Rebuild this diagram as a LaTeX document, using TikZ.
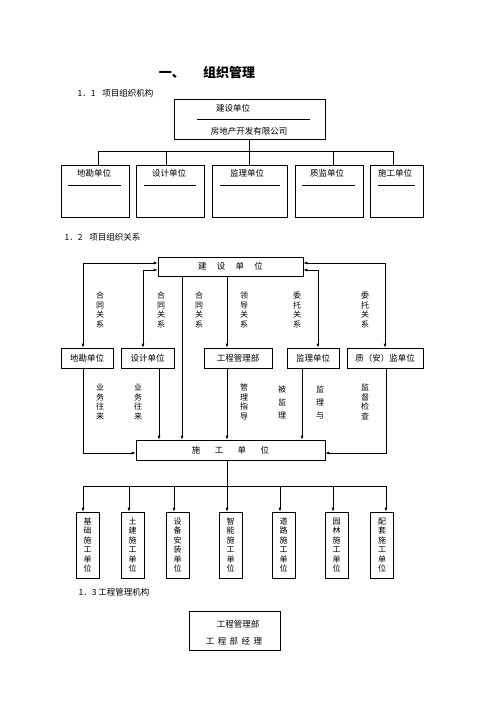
\documentclass[tikz,border=0pt]{standalone}
\usepackage{fontspec}
\setmainfont{Noto Sans CJK SC}
\usetikzlibrary{arrows.meta}

\tikzset{
  box/.style={draw, line width=0.6pt, inner sep=0pt},
  txt/.style={font=\fontsize{8.5}{10}\selectfont},
  vtxt/.style={font=\fontsize{8}{9.5}\selectfont, align=center, inner sep=0pt},
  ln/.style={line width=0.6pt},
  arr/.style={ln, -{Latex[length=4pt,width=3pt]}},
  darr/.style={ln, {Latex[length=4pt,width=3pt]}-{Latex[length=4pt,width=3pt]}}
}

\begin{document}
\begin{tikzpicture}[x=1pt,y=-1pt]
    \useasboundingbox (0,0) rectangle (500,707);

    % Titulo
    \node[font=\fontsize{13}{15}\selectfont\bfseries] (titulo) at (207,73) {一、\hspace{1.4em}组织管理};

    % ---------- 1.1 ----------
    \node[txt, anchor=west] (h11) at (74,93) {1．1\hspace{0.8em}项目组织机构};

    % Owner box
    \node[box, minimum width=151pt, minimum height=40pt] (jsdw) at (249.5,119) {};
    \node[txt] (jsdwa) at (233,108) {建设单位};
    \draw[ln] (197,119) -- (310,119);
    \node[txt] (jsdwb) at (249,131) {房地产开发有限公司};

    % five units
    \node[box, minimum width=68pt, minimum height=52pt] (dk) at (95,191) {};
    \node[box, minimum width=68pt, minimum height=52pt] (sj) at (170,191) {};
    \node[box, minimum width=75pt, minimum height=52pt] (jl) at (249.5,191) {};
    \node[box, minimum width=68pt, minimum height=52pt] (zj) at (329,191) {};
    \node[box, minimum width=53pt, minimum height=52pt] (sg) at (396.5,191) {};

    \node[txt] (dka) at (94,173) {地勘单位};
    \node[txt] (sja) at (169,173) {设计单位};
    \node[txt] (jla) at (247,173) {监理单位};
    \node[txt] (zja) at (327,173) {质监单位};
    \node[txt] (sga) at (395,173) {施工单位};

    \draw[ln] (68,185) -- (121,185);
    \draw[ln] (144,185) -- (196,185);
    \draw[ln] (220,185) -- (280,185);
    \draw[ln] (302,185) -- (355,185);
    \draw[ln] (378,185) -- (415,185);

    % tree
    \coordinate (t11) at (249.5,151);
    \draw[ln] (jsdw.south) -- (t11);
    \draw[ln] ([xshift=3pt]dk.north |- t11) -- ([xshift=-3.5pt]sg.north |- t11);
    \draw[ln] ([xshift=3pt]dk.north |- t11) -- ([xshift=3pt]dk.north);
    \draw[ln] ([xshift=-4pt]sj.north |- t11) -- ([xshift=-4pt]sj.north);
    \draw[ln] (t11) -- (jl.north);
    \draw[ln] ([xshift=4pt]zj.north |- t11) -- ([xshift=4pt]zj.north);
    \draw[ln] ([xshift=-3.5pt]sg.north |- t11) -- ([xshift=-3.5pt]sg.north);

    % ---------- 1.2 ----------
    \node[txt, anchor=west] (h12) at (61,237) {1．2\hspace{0.8em}项目组织关系};

    \node[box, txt, minimum width=145pt, minimum height=19pt] (jsdw2) at (230.5,266.5) {建\hspace{1.2em}设\hspace{1.2em}单\hspace{1.2em}位};

    \node[box, txt, minimum width=52pt, minimum height=20pt] (dk2) at (87,358) {地勘单位};
    \node[box, txt, minimum width=53pt, minimum height=20pt] (sj2) at (147.5,358) {设计单位};
    \node[box, txt, minimum width=68pt, minimum height=20pt] (gc2) at (238,358) {工程管理部};
    \node[box, txt, minimum width=52pt, minimum height=20pt] (jl2) at (313,358) {监理单位};
    \node[box, txt, minimum width=76pt, minimum height=20pt] (za2) at (385,358) {质（安）监单位};

    \node[box, txt, minimum width=189pt, minimum height=20pt] (sg2) at (230.5,450) {施\hspace{1.7em}工\hspace{1.7em}单\hspace{1.7em}位};

    % relations with owner
    \draw[darr] ([yshift=3.5pt]jsdw2.west) -| ([xshift=-4pt]dk2.north);
    \draw[darr] ([yshift=-3.5pt]jsdw2.west) -| ([xshift=-4.5pt]sj2.north);
    \draw[darr] ([yshift=-3.5pt]jsdw2.east) -| ([xshift=5pt]jl2.north);
    \draw[darr] ([yshift=3.5pt]jsdw2.east) -| (za2.north);
    \draw[arr] ([xshift=-11pt]gc2.north |- jsdw2.south) -- ([xshift=-11pt]gc2.north);
    \draw[arr] ([xshift=-48.5pt]jsdw2.south) -- ([xshift=-48.5pt]jsdw2.south |- sg2.north);

    % relations with contractor
    \draw[arr] ([xshift=-4pt]dk2.south) |- ([yshift=-3pt]sg2.west);
    \draw[arr] ([xshift=11.5pt]sj2.south) -- ([xshift=11.5pt]sj2.south |- sg2.north);
    \draw[arr] ([xshift=-11pt]gc2.south) -- ([xshift=-11pt]gc2.south |- sg2.north);
    \draw[arr] ([xshift=-11pt]jl2.south) -- ([xshift=-11pt]jl2.south |- sg2.north);
    \draw[arr] ([xshift=1pt]za2.south) |- ([yshift=-3pt]sg2.east);

    % labels
    \node[vtxt] (r1) at (100,310) {合\\同\\关\\系};
    \node[vtxt] (r2) at (161,310) {合\\同\\关\\系};
    \node[vtxt] (r3) at (199,310) {合\\同\\关\\系};
    \node[vtxt] (r4) at (244,310) {领\\导\\关\\系};
    \node[vtxt] (r5) at (297,310) {委\\托\\关\\系};
    \node[vtxt] (r6) at (365,310) {委\\托\\关\\系};

    \node[vtxt] (r7) at (100,402) {业\\务\\往\\来};
    \node[vtxt] (r8) at (138,402) {业\\务\\往\\来};
    \node[vtxt] (r9) at (244,402) {管\\理\\指\\导};
    \node[vtxt, font=\fontsize{8}{13}\selectfont] (r10) at (282,402) {被\\监\\理};
    \node[vtxt, font=\fontsize{8}{13}\selectfont] (r11) at (320,402) {监\\理\\与};
    \node[vtxt] (r12) at (365,402) {监\\督\\检\\查};

    % contractors
    \node[box, vtxt, minimum width=23pt, minimum height=66pt] (b1) at (87.5,545) {基\\础\\施\\工\\单\\位};
    \node[box, vtxt, minimum width=23pt, minimum height=66pt] (b2) at (132.5,545) {土\\建\\施\\工\\单\\位};
    \node[box, vtxt, minimum width=23pt, minimum height=66pt] (b3) at (177.5,545) {设\\备\\安\\装\\单\\位};
    \node[box, vtxt, minimum width=23pt, minimum height=66pt] (b4) at (230.5,545) {智\\能\\施\\工\\单\\位};
    \node[box, vtxt, minimum width=23pt, minimum height=66pt] (b5) at (283.5,545) {道\\路\\施\\工\\单\\位};
    \node[box, vtxt, minimum width=23pt, minimum height=66pt] (b6) at (336.5,545) {园\\林\\施\\工\\单\\位};
    \node[box, vtxt, minimum width=23pt, minimum height=66pt] (b7) at (382,545) {配\\套\\施\\工\\单\\位};

    \coordinate (bus) at (227,486);
    \draw[ln] ([xshift=-3.5pt]sg2.south) -- (bus);
    \draw[ln] ([xshift=-4.5pt]b1.north |- bus) -- ([xshift=4pt]b7.north |- bus);
    \draw[arr] ([xshift=-4.5pt]b1.north |- bus) -- ([xshift=-4.5pt]b1.north);
    \draw[arr] ([xshift=-3.5pt]b2.north |- bus) -- ([xshift=-3.5pt]b2.north);
    \draw[arr] ([xshift=-3.5pt]b3.north |- bus) -- ([xshift=-3.5pt]b3.north);
    \draw[arr] ([xshift=-3.5pt]b4.north |- bus) -- ([xshift=-3.5pt]b4.north);
    \draw[arr] ([xshift=-3.5pt]b5.north |- bus) -- ([xshift=-3.5pt]b5.north);
    \draw[arr] ([xshift=-3.5pt]b6.north |- bus) -- ([xshift=-3.5pt]b6.north);
    \draw[arr] ([xshift=4pt]b7.north |- bus) -- ([xshift=4pt]b7.north);

    % ---------- 1.3 ----------
    \node[txt, anchor=west] (h13) at (75,592) {1．3 工程管理机构};

    \node[box, minimum width=91pt, minimum height=39pt] (gcb) at (234.5,630.5) {};
    \node[txt] (gcba) at (238,624) {工程管理部};
    \node[txt] (gcbb) at (234,641) {工\hspace{0.4em}程\hspace{0.4em}部\hspace{0.4em}经\hspace{0.4em}理};
\end{tikzpicture}
\end{document}
